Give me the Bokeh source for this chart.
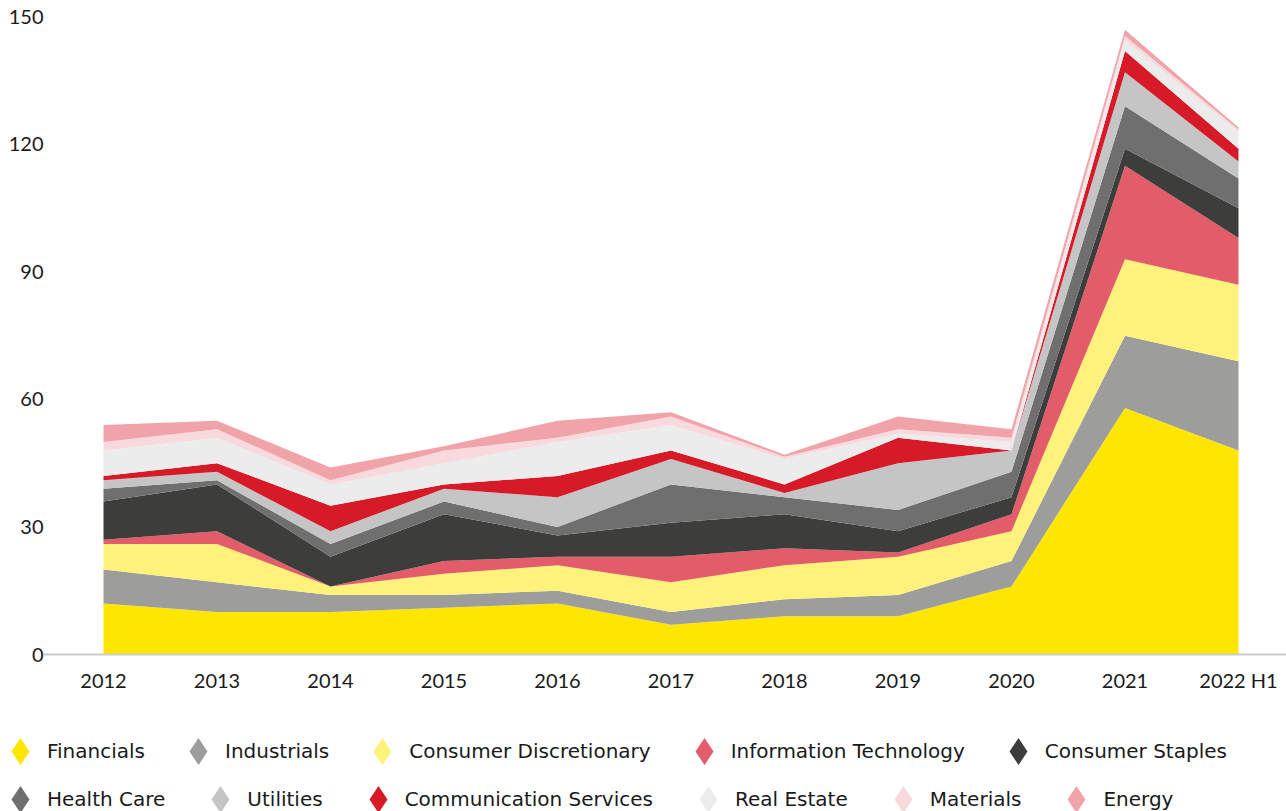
from bokeh.plotting import figure
from bokeh.models import ColumnDataSource, Range1d, FixedTicker, Legend, LegendItem
from bokeh.embed import file_html
from bokeh.resources import INLINE

categories = ["2012", "2013", "2014", "2015", "2016", "2017", "2018", "2019", "2020", "2021", "2022 H1"]

financials = [12, 10, 10, 11, 12, 7, 9, 9, 16, 58, 48]
industrials = [8, 7, 4, 3, 3, 3, 4, 5, 6, 17, 21]
consumer_discretionary = [6, 9, 2, 5, 6, 7, 8, 9, 7, 18, 18]
information_technology = [1, 3, 0, 3, 2, 6, 4, 1, 4, 22, 11]
consumer_staples = [9, 11, 7, 11, 5, 8, 8, 5, 4, 4, 7]
health_care = [3, 1, 3, 3, 2, 9, 4, 5, 6, 10, 7]
utilities = [2, 2, 3, 3, 7, 6, 1, 11, 5, 8, 4]
communication_services = [1, 2, 6, 1, 5, 2, 2, 6, 0, 5, 3]
real_estate = [6, 6, 5, 5, 8, 6, 6, 1, 2, 2.5, 4]
materials = [2, 2, 1, 3, 1, 2, 0.5, 1, 1, 1, 0.5]
energy = [4, 2, 3, 1, 4, 1, 0.5, 3, 2, 1.5, 0.5]

series_names = ["Financials", "Industrials", "Consumer Discretionary", "Information Technology",
                "Consumer Staples", "Health Care", "Utilities", "Communication Services",
                "Real Estate", "Materials", "Energy"]
series_values = [financials, industrials, consumer_discretionary, information_technology,
                 consumer_staples, health_care, utilities, communication_services,
                 real_estate, materials, energy]
series_colors = ["#FFE600", "#9D9D9C", "#FFF27A", "#E25D69", "#3D3D3B", "#6F6F6F",
                 "#C5C5C5", "#D71A28", "#ECECEC", "#F8D9DD", "#F0A4A9"]

y_ticks = [0, 30, 60, 90, 120, 150]

x = list(range(len(categories)))
data = {"x": x}
for name, vals in zip(series_names, series_values):
    data[name] = vals
source = ColumnDataSource(data)

FONT = "Lato"
LEG_FONT = "DejaVu Sans"
TEXT = "#1a1a1a"

# The frame covers the whole canvas; the axes sit at fixed data positions inside it,
# so that the legend (drawn in the frame) is never clipped.
X_START, X_END = -0.9075, 10.423
X_AXIS_LEFT = -0.5286
p = figure(width=1286, height=811, output_backend="svg", toolbar_location=None,
           x_range=Range1d(X_START, X_END), y_range=Range1d(-36.94, 153.88),
           min_border_left=0, min_border_right=0, min_border_top=0, min_border_bottom=0)
p.outline_line_color = None
p.grid.visible = False

p.varea_stack(stackers=series_names, x="x", color=series_colors, source=source)

p.xaxis.fixed_location = 0
p.xaxis.bounds = (X_AXIS_LEFT, X_END)
p.xaxis.ticker = FixedTicker(ticks=x)
p.xaxis.major_label_overrides = {i: c for i, c in enumerate(categories)}
p.xaxis.major_tick_line_color = None
p.xaxis.major_tick_out = 0
p.xaxis.major_tick_in = 0
p.xaxis.minor_tick_line_color = None
p.xaxis.axis_line_color = "#cccccc"
p.xaxis.axis_line_width = 2
p.xaxis.major_label_standoff = 13
p.xaxis.major_label_text_font = FONT
p.xaxis.major_label_text_font_size = "20px"
p.xaxis.major_label_text_color = TEXT

p.yaxis.fixed_location = X_AXIS_LEFT
p.yaxis.ticker = FixedTicker(ticks=y_ticks)
p.yaxis.major_tick_line_color = None
p.yaxis.major_tick_out = 0
p.yaxis.major_tick_in = 0
p.yaxis.minor_tick_line_color = None
p.yaxis.axis_line_color = None
p.yaxis.major_label_standoff = 0
p.yaxis.major_label_text_font = FONT
p.yaxis.major_label_text_font_size = "20px"
p.yaxis.major_label_text_color = TEXT

# legend proxies: diamond markers with no visible point
items = []
for name, c in zip(series_names, series_colors):
    r = p.scatter(x=[0], y=[float("nan")], marker="diamond", size=10,
                  fill_color=c, line_color=c, line_width=3, line_join="miter")
    items.append(LegendItem(label=name, renderers=[r]))

GW = 54

def make_legend(its, loc, spacing):
    return Legend(items=its, orientation="horizontal", location=loc,
                  glyph_width=GW, glyph_height=GW, label_standoff=0, spacing=spacing,
                  padding=0, margin=0, border_line_color=None, background_fill_alpha=0,
                  label_text_font=LEG_FONT, label_text_font_size="20px",
                  label_text_color=TEXT)

H = 811
XOFF = 20 - GW // 2
p.add_layout(make_legend(items[:5], (XOFF, H - GW - (751 - GW // 2)), 26))
p.add_layout(make_legend(items[5:], (XOFF, H - GW - (799 - GW // 2)), 28))

open("out.html", "w").write(file_html(p, INLINE))
